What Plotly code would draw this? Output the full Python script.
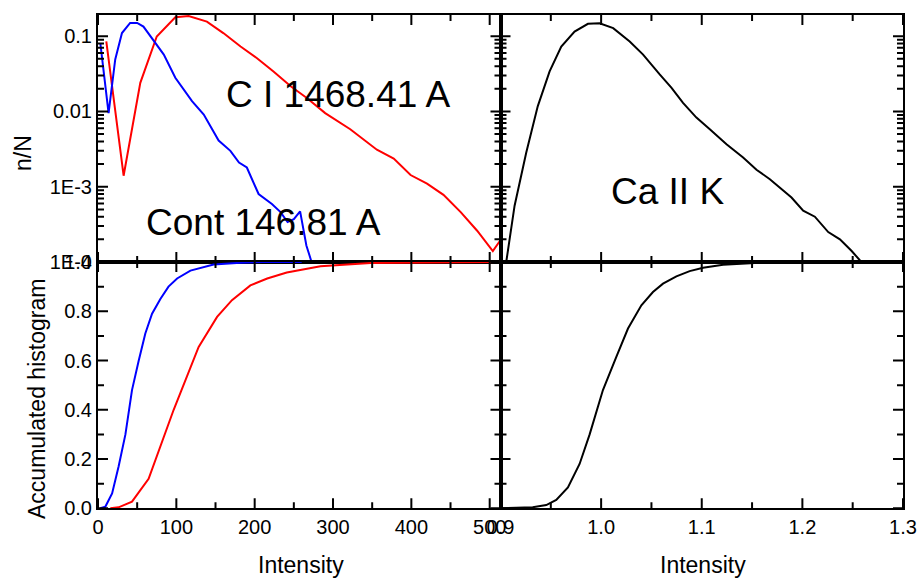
import plotly.graph_objects as go

# ---- data ----
cont_x = [3, 13.5, 22, 30.6, 41, 50, 58, 71, 84, 98.7, 109, 120, 135, 143, 154, 169, 180, 190, 205, 222, 233, 242, 250, 258, 266, 272, 276]
cont_y = [0.08, 0.0095, 0.049, 0.11, 0.15, 0.15, 0.134, 0.089, 0.057, 0.028, 0.020, 0.0137, 0.0091, 0.0064, 0.0041, 0.0030, 0.0021, 0.0018, 0.00080, 0.00059, 0.00046, 0.00034, 0.00037, 0.00047, 0.000166, 0.000105, 0.00007]

ci_x = [10.6, 32.7, 54, 75, 98.7, 115.7, 139, 160, 182, 203, 224, 246, 267, 290, 322, 356, 377.5, 399, 420, 441, 463, 484, 504, 513]
ci_y = [0.085, 0.0014, 0.024, 0.099, 0.178, 0.185, 0.156, 0.11, 0.073, 0.051, 0.034, 0.0216, 0.0150, 0.0095, 0.0058, 0.0031, 0.00237, 0.00143, 0.0011, 0.00078, 0.00046, 0.00026, 0.00014, 0.00019]

ca_x = [0.9057, 0.914, 0.9256, 0.937, 0.9488, 0.9604, 0.9736, 0.9869, 0.9985, 1.012, 1.0284, 1.0417, 1.0582, 1.07, 1.0814, 1.0947, 1.108, 1.1246, 1.1411, 1.1544, 1.1677, 1.1793, 1.1892, 1.2008, 1.2124, 1.2257, 1.2373, 1.249, 1.2572, 1.26]
ca_y = [0.0001, 0.00056, 0.00285, 0.0117, 0.034, 0.073, 0.115, 0.146, 0.148, 0.128, 0.085, 0.057, 0.031, 0.0206, 0.013, 0.0083, 0.0058, 0.00366, 0.00245, 0.00168, 0.00126, 0.00093, 0.00072, 0.00048, 0.0004, 0.00025, 0.0002, 0.00014, 0.000105, 0.00009]

cont_acc_x = [3, 9.3, 18, 26.3, 35, 43.4, 52, 60.4, 69, 79.6, 90, 101, 118, 147.6, 182, 210, 260]
cont_acc_y = [0.0, 0.006, 0.06, 0.17, 0.30, 0.48, 0.60, 0.71, 0.79, 0.85, 0.90, 0.933, 0.965, 0.99, 0.997, 1.0, 1.0]

ci_acc_x = [15.7, 26.3, 43.4, 64.6, 96.6, 128.5, 152, 171, 194.5, 216, 241, 284, 348, 446, 510]
ci_acc_y = [0.0, 0.004, 0.027, 0.12, 0.40, 0.655, 0.777, 0.845, 0.905, 0.933, 0.957, 0.983, 0.996, 1.0, 1.0]

ca_acc_x = [0.9007, 0.932, 0.9455, 0.9554, 0.967, 0.9786, 0.9886, 1.0018, 1.0151, 1.0267, 1.04, 1.0515, 1.0615, 1.0748, 1.088, 1.1013, 1.1212, 1.1478, 1.174, 1.26]
ca_acc_y = [0.0, 0.004, 0.013, 0.034, 0.085, 0.18, 0.30, 0.48, 0.615, 0.73, 0.824, 0.878, 0.912, 0.942, 0.963, 0.977, 0.989, 0.996, 1.0, 1.0]

# ---- tick values ----
left_x_major = [0, 100, 200, 300, 400, 500]
left_x_minor = [50, 150, 250, 350, 450]
right_x_major = [0.9, 1.0, 1.1, 1.2, 1.3]
right_x_minor = [0.95, 1.05, 1.15, 1.25]
log_tickvals = [1e-4, 1e-3, 0.01, 0.1]
log_ticktext = ["1E-4", "1E-3", "0.01", "0.1"]
log_minor = [m * 10 ** e for e in range(-4, 0) for m in range(2, 10)]
lin_y_major = [0.0, 0.2, 0.4, 0.6, 0.8, 1.0]
lin_y_minor = [0.1, 0.3, 0.5, 0.7, 0.9]

LEFT_X = [0, 513.8]
RIGHT_X = [0.9, 1.3]
LOG_RANGE = [-4, -0.7186]
LIN_RANGE = [0, 1]

FONT = "Liberation Sans, Arial, sans-serif"
RED, BLUE, BLACK = "#ff0000", "#0000ff", "#000000"

# ---- figure geometry (pixels) ----
W, H = 917, 578
PX_L, PX_M, PX_R = 98, 500.5, 903
PY_T, PY_M, PY_B = 15, 262, 508.3
xl = [PX_L / W, PX_M / W]
xr = [PX_M / W, PX_R / W]
yt = [1 - PY_M / H, 1 - PY_T / H]
yb = [1 - PY_B / H, 1 - PY_M / H]
MAJ_LEN, MIN_LEN = 10, 6   # tick lengths, px

fig = go.Figure()
lw = 2
fig.add_trace(go.Scatter(x=ci_x, y=ci_y, mode="lines", line=dict(color=RED, width=lw), xaxis="x", yaxis="y"))
fig.add_trace(go.Scatter(x=cont_x, y=cont_y, mode="lines", line=dict(color=BLUE, width=lw), xaxis="x", yaxis="y"))
fig.add_trace(go.Scatter(x=ca_x, y=ca_y, mode="lines", line=dict(color=BLACK, width=lw), xaxis="x2", yaxis="y2"))
fig.add_trace(go.Scatter(x=ci_acc_x, y=ci_acc_y, mode="lines", line=dict(color=RED, width=lw), xaxis="x3", yaxis="y3"))
fig.add_trace(go.Scatter(x=cont_acc_x, y=cont_acc_y, mode="lines", line=dict(color=BLUE, width=lw), xaxis="x3", yaxis="y3"))
fig.add_trace(go.Scatter(x=ca_acc_x, y=ca_acc_y, mode="lines", line=dict(color=BLACK, width=lw), xaxis="x4", yaxis="y4"))


def panel_ticks(xa, ya, xrng, xpx, yrng, ypx, ylog, xmaj, xmin, ymaj, ymin):
    """Inward tick marks on all four panel edges, drawn as short line segments
    whose length is converted from pixels to data units via the panel scale."""
    xs, ys = [], []
    ux = (xrng[1] - xrng[0]) / xpx              # data units per px along x
    uy = (yrng[1] - yrng[0]) / ypx              # data (or log) units per px along y

    def yval(v):                                  # axis-space -> data value
        return 10 ** v if ylog else v

    y_lo, y_hi = yrng
    for vals, ln in ((xmaj, MAJ_LEN), (xmin, MIN_LEN)):
        for v in vals:
            xs += [v, v, None, v, v, None]
            ys += [yval(y_lo), yval(y_lo + ln * uy), None, yval(y_hi), yval(y_hi - ln * uy), None]
    for vals, ln in ((ymaj, MAJ_LEN), (ymin, MIN_LEN)):
        for v in vals:
            xs += [xrng[0], xrng[0] + ln * ux, None, xrng[1], xrng[1] - ln * ux, None]
            ys += [v, v, None, v, v, None]
    fig.add_trace(go.Scatter(x=xs, y=ys, mode="lines", xaxis=xa, yaxis=ya, hoverinfo="skip",
                             connectgaps=False, line=dict(color=BLACK, width=2)))


panel_w = PX_M - PX_L
panel_h_top = PY_M - PY_T
panel_h_bot = PY_B - PY_M
panel_ticks("x", "y", LEFT_X, panel_w, LOG_RANGE, panel_h_top, True,
            left_x_major, left_x_minor, log_tickvals, log_minor)
panel_ticks("x2", "y2", RIGHT_X, panel_w, LOG_RANGE, panel_h_top, True,
            right_x_major, right_x_minor, log_tickvals, log_minor)
panel_ticks("x3", "y3", LEFT_X, panel_w, LIN_RANGE, panel_h_bot, False,
            left_x_major, left_x_minor, lin_y_major, lin_y_minor)
panel_ticks("x4", "y4", RIGHT_X, panel_w, LIN_RANGE, panel_h_bot, False,
            right_x_major, right_x_minor, lin_y_major, lin_y_minor)

common = dict(showline=True, linecolor="black", linewidth=2, mirror=True, ticks="",
              showgrid=False, zeroline=False, automargin=False, layer="above traces",
              tickfont=dict(family=FONT, size=20, color="black"))

fig.update_layout(
    template="none",
    width=W, height=H, margin=dict(l=0, r=0, t=0, b=0, autoexpand=False),
    paper_bgcolor="white", plot_bgcolor="rgba(0,0,0,0)", showlegend=False,
    font=dict(family=FONT, color="black"),
    xaxis=dict(domain=xl, anchor="y", range=LEFT_X, tickmode="array", tickvals=left_x_major,
               showticklabels=False, **common),
    xaxis2=dict(domain=xr, anchor="y2", range=RIGHT_X, tickmode="array", tickvals=right_x_major,
                showticklabels=False, **common),
    xaxis3=dict(domain=xl, anchor="y3", range=LEFT_X, tickmode="array", tickvals=left_x_major,
                **common),
    xaxis4=dict(domain=xr, anchor="y4", range=RIGHT_X, tickmode="array", tickvals=right_x_major,
                tickformat=".1f", **common),
    yaxis=dict(domain=yt, anchor="x", type="log", range=LOG_RANGE,
               tickmode="array", tickvals=log_tickvals, ticktext=log_ticktext, **common),
    yaxis2=dict(domain=yt, anchor="x2", type="log", range=LOG_RANGE,
                tickmode="array", tickvals=log_tickvals, ticktext=log_ticktext,
                showticklabels=False, **common),
    yaxis3=dict(domain=yb, anchor="x3", range=LIN_RANGE, tickmode="array", tickvals=lin_y_major,
                tickformat=".1f", **common),
    yaxis4=dict(domain=yb, anchor="x4", range=LIN_RANGE, tickmode="array", tickvals=lin_y_major,
                showticklabels=False, **common),
)


def ann(text, px, py, size, angle=0):
    fig.add_annotation(text=text, x=px / W, y=1 - py / H, xref="paper", yref="paper",
                       showarrow=False, textangle=angle, xanchor="center", yanchor="middle",
                       font=dict(family=FONT, size=size, color="black"))


ann("C I 1468.41 A", 338, 95, 37)
ann("Cont 146.81 A", 263.5, 222, 37)
ann("Ca II K", 667.5, 191, 37)
ann("n/N", 23, 153, 23, -90)
ann("Accumulated histogram", 37, 399, 23, -90)
ann("Intensity", 300.7, 565, 23)
ann("Intensity", 702.5, 565, 23)

fig.write_html("out.html")
